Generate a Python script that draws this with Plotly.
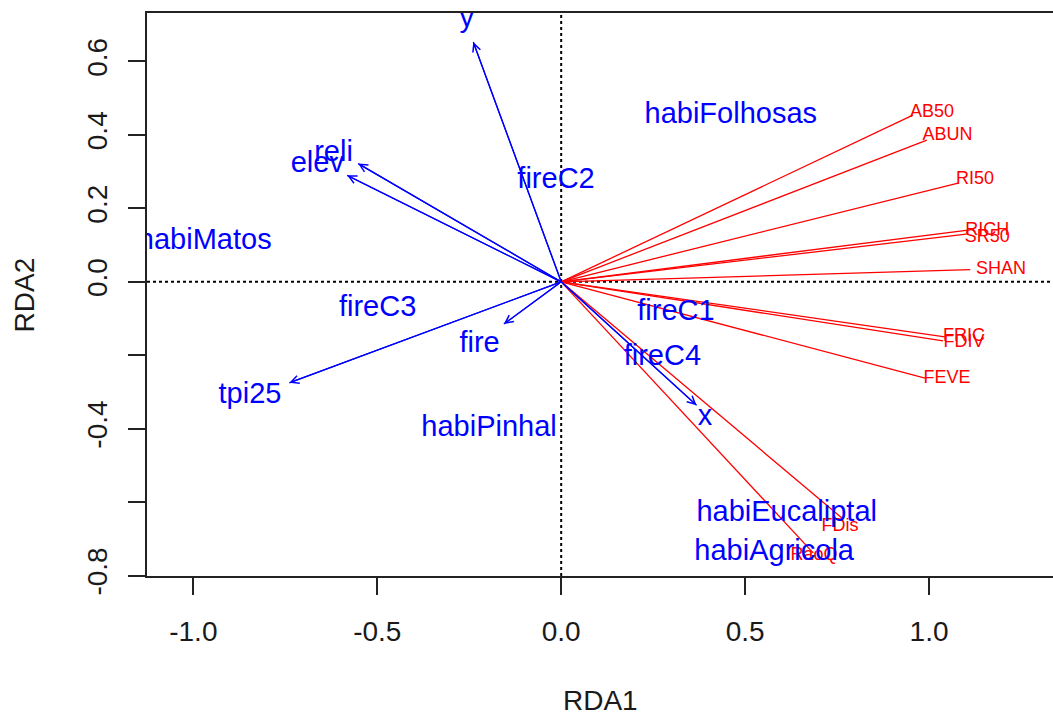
import plotly.graph_objects as go

# --- species (red) segments: line end points and label centres ---
sp_names = ["AB50", "ABUN", "RI50", "RICH", "SR50", "SHAN", "FRIC", "FDIV", "FEVE", "FDis", "RaoQ"]
sp_x = [0.956, 0.994, 1.079, 1.106, 1.101, 1.112, 1.043, 1.038, 0.989, 0.763, 0.685]
sp_y = [0.454, 0.386, 0.269, 0.141, 0.130, 0.033, -0.150, -0.161, -0.262, -0.643, -0.738]
sp_lab_x = [1.008, 1.050, 1.125, 1.158, 1.158, 1.196, 1.095, 1.095, 1.049, 0.758, 0.687]
sp_lab_y = [0.462, 0.399, 0.279, 0.141, 0.122, 0.034, -0.150, -0.164, -0.262, -0.665, -0.745]

# --- environmental vectors (blue arrows) ---
env_names = ["y", "reli", "elev", "tpi25", "fire", "x"]
env_x = [-0.239, -0.552, -0.582, -0.739, -0.156, 0.368]
env_y = [0.653, 0.322, 0.290, -0.275, -0.115, -0.336]
env_lab_x = [-0.257, -0.619, -0.663, -0.846, -0.222, 0.391]
env_lab_y = [0.713, 0.350, 0.320, -0.309, -0.171, -0.371]

# --- factor centroids (blue labels) ---
cen_names = ["habiFolhosas", "fireC2", "habiMatos", "fireC3", "habiPinhal",
             "fireC1", "fireC4", "habiEucaliptal", "habiAgricola"]
cen_x = [0.461, -0.014, -0.969, -0.499, -0.196, 0.312, 0.275, 0.613, 0.579]
cen_y = [0.453, 0.276, 0.109, -0.073, -0.401, -0.085, -0.208, -0.632, -0.738]

x_ticks = [-1.0, -0.5, 0.0, 0.5, 1.0]
x_ticktext = ["-1.0", "-0.5", "0.0", "0.5", "1.0"]
y_ticks = [-0.8, -0.6, -0.4, -0.2, 0.0, 0.2, 0.4, 0.6]
y_ticktext = ["-0.8", "", "-0.4", "", "0.0", "0.2", "0.4", "0.6"]

FONT = "Liberation Sans, Arial, sans-serif"
RED = "#ff0000"
BLUE = "#0000ff"

fig = go.Figure()

# red segments
seg_x, seg_y = [], []
for ex, ey in zip(sp_x, sp_y):
    seg_x += [0, ex, None]
    seg_y += [0, ey, None]
fig.add_trace(go.Scatter(x=seg_x, y=seg_y, mode="lines",
                         line=dict(color=RED, width=1.3), hoverinfo="skip"))

# blue arrow shafts
ax_x, ax_y = [], []
for ex, ey in zip(env_x, env_y):
    ax_x += [0, ex, None]
    ax_y += [0, ey, None]
fig.add_trace(go.Scatter(x=ax_x, y=ax_y, mode="lines",
                         line=dict(color=BLUE, width=1.3), hoverinfo="skip"))

# labels
fig.add_trace(go.Scatter(x=sp_lab_x, y=sp_lab_y, mode="text", text=sp_names,
                         textposition="middle center",
                         textfont=dict(family=FONT, size=18, color=RED),
                         cliponaxis=True, hoverinfo="skip"))
fig.add_trace(go.Scatter(x=env_lab_x, y=env_lab_y, mode="text", text=env_names,
                         textposition="middle center",
                         textfont=dict(family=FONT, size=29, color=BLUE),
                         cliponaxis=True, hoverinfo="skip"))
fig.add_trace(go.Scatter(x=cen_x, y=cen_y, mode="text", text=cen_names,
                         textposition="middle center",
                         textfont=dict(family=FONT, size=29, color=BLUE),
                         cliponaxis=True, hoverinfo="skip"))

# arrow heads
for ex, ey in zip(env_x, env_y):
    fig.add_annotation(x=ex, y=ey, ax=0, ay=0, xref="x", yref="y",
                       axref="x", ayref="y", text="", showarrow=True,
                       arrowhead=5, arrowsize=1.2, arrowwidth=1.3,
                       arrowcolor=BLUE, standoff=0, startstandoff=0)

# dotted zero lines
fig.add_shape(type="line", xref="x", yref="paper", x0=0, x1=0, y0=0, y1=1,
              line=dict(color="black", width=2, dash="3px,3px"), layer="below")
fig.add_shape(type="line", xref="paper", yref="y", x0=0, x1=1, y0=0, y1=0,
              line=dict(color="black", width=2, dash="3px,3px"), layer="below")

# axis titles
fig.add_annotation(text="RDA1", xref="paper", yref="paper", x=0.5, y=-0.221,
                   showarrow=False, xanchor="center", yanchor="middle",
                   font=dict(family=FONT, size=28, color="#1a1a1a"))
fig.add_annotation(text="RDA2", xref="paper", yref="paper", x=-0.1347, y=0.5,
                   showarrow=False, xanchor="center", yanchor="middle", textangle=-90,
                   font=dict(family=FONT, size=28, color="#1a1a1a"))

fig.update_layout(
    width=1053, height=715,
    margin=dict(l=147, r=0, t=12.5, b=139),
    paper_bgcolor="white", plot_bgcolor="white",
    showlegend=False,
    font=dict(family=FONT, size=28, color="#1a1a1a"),
    xaxis=dict(range=[-1.126, 1.337], showgrid=False, zeroline=False,
               tickmode="array", tickvals=x_ticks, ticktext=x_ticktext,
               ticks="outside", ticklen=17, tickwidth=1.5, tickcolor="#222",
               showline=True, mirror=True, linecolor="#222", linewidth=2,
               tickfont=dict(family=FONT, size=28, color="#1a1a1a"),
               ticklabelstandoff=12),
    yaxis=dict(range=[-0.801, 0.732], showgrid=False, zeroline=False,
               tickmode="array", tickvals=y_ticks, ticktext=y_ticktext,
               ticks="outside", ticklen=17, tickwidth=1.5, tickcolor="#222",
               showline=True, mirror=False, linecolor="#222", linewidth=2,
               tickangle=-90,
               tickfont=dict(family=FONT, size=28, color="#1a1a1a"),
               ticklabelstandoff=10),
)

fig.write_html("out.html")
